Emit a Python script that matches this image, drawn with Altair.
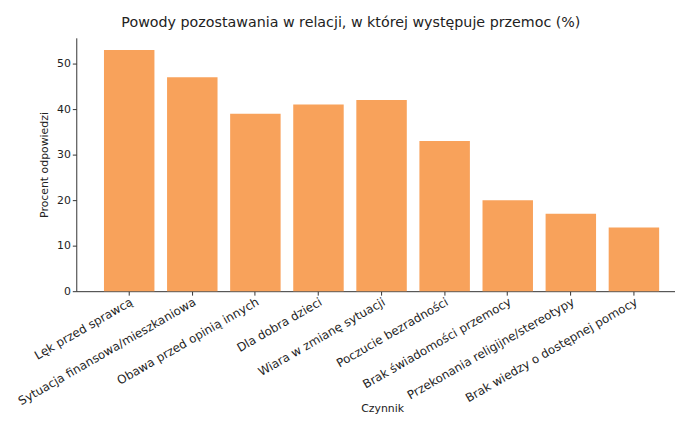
import altair as alt
import pandas as pd

categories = [
    "Lęk przed sprawcą",
    "Sytuacja finansowa/mieszkaniowa",
    "Obawa przed opinią innych",
    "Dla dobra dzieci",
    "Wiara w zmianę sytuacji",
    "Poczucie bezradności",
    "Brak świadomości przemocy",
    "Przekonania religijne/stereotypy",
    "Brak wiedzy o dostępnej pomocy",
]
values = [53, 47, 39, 41, 42, 33, 20, 17, 14]

df = pd.DataFrame({"Czynnik": categories, "Procent": values})

FONT = "DejaVu Sans"

chart = alt.Chart(df).mark_bar(color="#F8A25B").encode(
    x=alt.X(
        "Czynnik:N",
        sort=categories,
        scale=alt.Scale(paddingInner=0.2, paddingOuter=0.345, align=0.636),
        axis=alt.Axis(
            title="Czynnik",
            labelAngle=-30,
            labelAlign="right",
            labelBaseline="top",
            labelFontSize=12,
            labelFont=FONT,
            labelColor="#1e1e1e",
            labelLimit=300,
            titleFont=FONT,
            titleFontSize=11,
            titleFontWeight="normal",
            titleColor="#222222",
            titleX=309,
            titleY=113,
            titleBaseline="top",
            domainColor="#333333",
            tickColor="#333333",
            tickSize=4,
            labelPadding=1,
        ),
    ),
    y=alt.Y(
        "Procent:Q",
        scale=alt.Scale(domain=[0, 55.65], nice=False),
        axis=alt.Axis(
            title="Procent odpowiedzi",
            values=[0, 10, 20, 30, 40, 50],
            grid=False,
            labelFontSize=11,
            labelFont=FONT,
            labelColor="#1e1e1e",
            titleFont=FONT,
            titleFontSize=11,
            titleFontWeight="normal",
            titleColor="#222222",
            titlePadding=7,
            domainColor="#333333",
            tickColor="#333333",
            tickSize=4,
        ),
    ),
).properties(
    width=605,
    height=256,
    autosize="none",
    padding={"left": 69, "top": 28, "right": 0, "bottom": 126},
    title=alt.TitleParams(
        "Powody pozostawania w relacji, w której występuje przemoc (%)",
        font=FONT,
        fontSize=14.4,
        fontWeight="normal",
        color="#222222",
        anchor="middle",
        dx=-25,
        offset=8,
    ),
).configure(background="white").configure_view(strokeWidth=0)

chart.save("out.html", embed_options={"renderer": "svg", "actions": False})
